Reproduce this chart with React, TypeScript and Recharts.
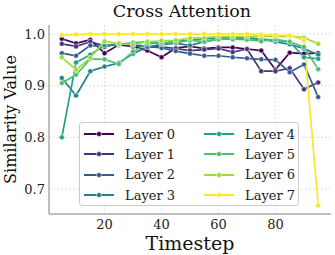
import { LineChart, Line, XAxis, YAxis, CartesianGrid, Legend } from 'recharts'

const timesteps = [5, 10, 15, 20, 25, 30, 35, 40, 45, 50, 55, 60, 65, 70, 75, 80, 85, 90, 95]

const layer0 = [0.991, 0.982, 0.989, 0.963, 0.979, 0.976, 0.968, 0.955, 0.973, 0.976, 0.972, 0.974, 0.974, 0.971, 0.968, 0.931, 0.964, 0.962, 0.963]
const layer1 = [0.981, 0.976, 0.985, 0.977, 0.98, 0.978, 0.975, 0.975, 0.972, 0.968, 0.97, 0.972, 0.965, 0.971, 0.928, 0.928, 0.934, 0.893, 0.906]
const layer2 = [0.963, 0.958, 0.978, 0.975, 0.982, 0.979, 0.976, 0.973, 0.967, 0.962, 0.958, 0.958, 0.955, 0.953, 0.951, 0.95, 0.926, 0.941, 0.878]
const layer3 = [0.915, 0.881, 0.928, 0.937, 0.944, 0.962, 0.975, 0.98, 0.982, 0.978, 0.985, 0.99, 0.99, 0.992, 0.99, 0.985, 0.98, 0.972, 0.96]
const layer4 = [0.8, 0.945, 0.96, 0.978, 0.98, 0.983, 0.985, 0.982, 0.986, 0.988, 0.99, 0.993, 0.993, 0.992, 0.99, 0.988, 0.985, 0.955, 0.952]
const layer5 = [0.905, 0.921, 0.952, 0.951, 0.942, 0.966, 0.981, 0.984, 0.983, 0.988, 0.985, 0.99, 0.99, 0.989, 0.986, 0.99, 0.985, 0.975, 0.932]
const layer6 = [0.955, 0.931, 0.954, 0.986, 0.981, 0.98, 0.985, 0.987, 0.988, 0.992, 0.993, 0.995, 0.995, 0.995, 0.996, 0.995, 0.996, 0.993, 0.981]
const layer7 = [0.998, 0.999, 1.0, 1.0, 1.0, 1.0, 1.0, 1.0, 1.0, 1.0, 1.0, 1.0, 1.0, 1.0, 0.999, 0.998, 0.997, 0.988, 0.668]

const layers = [layer0, layer1, layer2, layer3, layer4, layer5, layer6, layer7]
const layerNames = ['Layer 0', 'Layer 1', 'Layer 2', 'Layer 3', 'Layer 4', 'Layer 5', 'Layer 6', 'Layer 7']
const colors = ['#440154', '#46327e', '#365c8d', '#277f8e', '#1fa187', '#4ac16d', '#a0da39', '#fde725']

const xTicks = [20, 40, 60, 80]
const yTicks = [0.7, 0.8, 0.9, 1.0]

const data = timesteps.map((t, i) => {
  const row: Record<string, number> = { t }
  layers.forEach((l, j) => {
    row[layerNames[j]] = l[i]
  })
  return row
})

const FONT = '"DejaVu Serif", serif'

function LegendBox() {
  const order = [0, 4, 1, 5, 2, 6, 3, 7]
  return (
    <div
      style={{
        width: 220,
        height: 84,
        background: 'rgba(255,255,255,0.85)',
        border: '1px solid #cccccc',
        borderRadius: 3,
        boxSizing: 'border-box',
        position: 'relative',
        fontFamily: FONT,
        fontSize: 13,
        color: '#222',
      }}
    >
      {order.map((idx) => {
        const col = idx < 4 ? 0 : 1
        const row = idx % 4
        return (
          <div
            key={idx}
            style={{ position: 'absolute', left: 4 + col * 120, top: 1 + row * 20.4, height: 20, display: 'flex', alignItems: 'center' }}
          >
            <svg width={30} height={10} style={{ marginRight: 11 }}>
              <line x1={0} y1={5} x2={30} y2={5} stroke={colors[idx]} strokeWidth={2} />
              <circle cx={15} cy={5} r={2.5} fill={colors[idx]} stroke="#fff" strokeWidth={0.5} />
            </svg>
            <span>{layerNames[idx]}</span>
          </div>
        )
      })}
    </div>
  )
}

const yLabel = () => (
  <text
    x={16}
    y={119.5}
    transform="rotate(-90, 16, 119.5)"
    textAnchor="middle"
    fill="#111"
    fontSize={16}
    fontFamily={FONT}
  >
    Similarity Value
  </text>
)

export default function App() {
  return (
    <div style={{ position: 'absolute', left: 0, top: 0, width: 335, height: 255, background: '#fff' }}>
      <LineChart width={335} height={255} data={data} margin={{ top: 25, right: 4, left: 0, bottom: 0 }}>
        <CartesianGrid stroke="#dddddd" strokeDasharray="2 2" horizontalValues={yTicks} verticalValues={xTicks} />
        <XAxis
          dataKey="t"
          type="number"
          domain={[0.5, 99.5]}
          ticks={xTicks}
          height={41}
          tickLine={false}
          tickSize={0}
          tickMargin={6}
          stroke="#808080"
          tick={{ fill: '#222', fontSize: 13, fontFamily: FONT }}
          label={{ value: 'Timestep', position: 'insideBottom', offset: 5, fill: '#111', fontSize: 19, fontFamily: FONT }}
        />
        <YAxis
          type="number"
          domain={[0.6515, 1.0175]}
          ticks={yTicks}
          width={49}
          tickLine={false}
          tickSize={0}
          tickMargin={4}
          stroke="#808080"
          tickFormatter={(v: number) => v.toFixed(1)}
          tick={{ fill: '#222', fontSize: 13, fontFamily: FONT }}
          label={{ content: yLabel }}
        />
        <XAxis xAxisId="top" orientation="top" dataKey="t" type="number" domain={[0.5, 99.5]} ticks={[]} height={0} stroke="#808080" tick={false} />
        <YAxis yAxisId="right" orientation="right" type="number" domain={[0.6515, 1.0175]} ticks={[]} width={0} stroke="#808080" tick={false} />
        {layerNames.map((name, j) => (
          <Line
            key={name}
            type="linear"
            dataKey={name}
            stroke={colors[j]}
            strokeWidth={1.7}
            dot={{ r: 2.5, fill: colors[j], stroke: '#fff', strokeWidth: 0.5 }}
            isAnimationActive={false}
          />
        ))}
        <Legend
          layout="vertical"
          align="center"
          verticalAlign="middle"
          content={() => <LegendBox />}
          wrapperStyle={{ position: 'absolute', left: 79, top: 122, width: 222, height: 85 }}
        />
      </LineChart>
      <div
        style={{
          position: 'absolute',
          left: 0,
          top: 1,
          width: 364,
          textAlign: 'center',
          fontFamily: FONT,
          fontSize: 17.5,
          color: '#111',
        }}
      >
        Cross Attention
      </div>
    </div>
  )
}
